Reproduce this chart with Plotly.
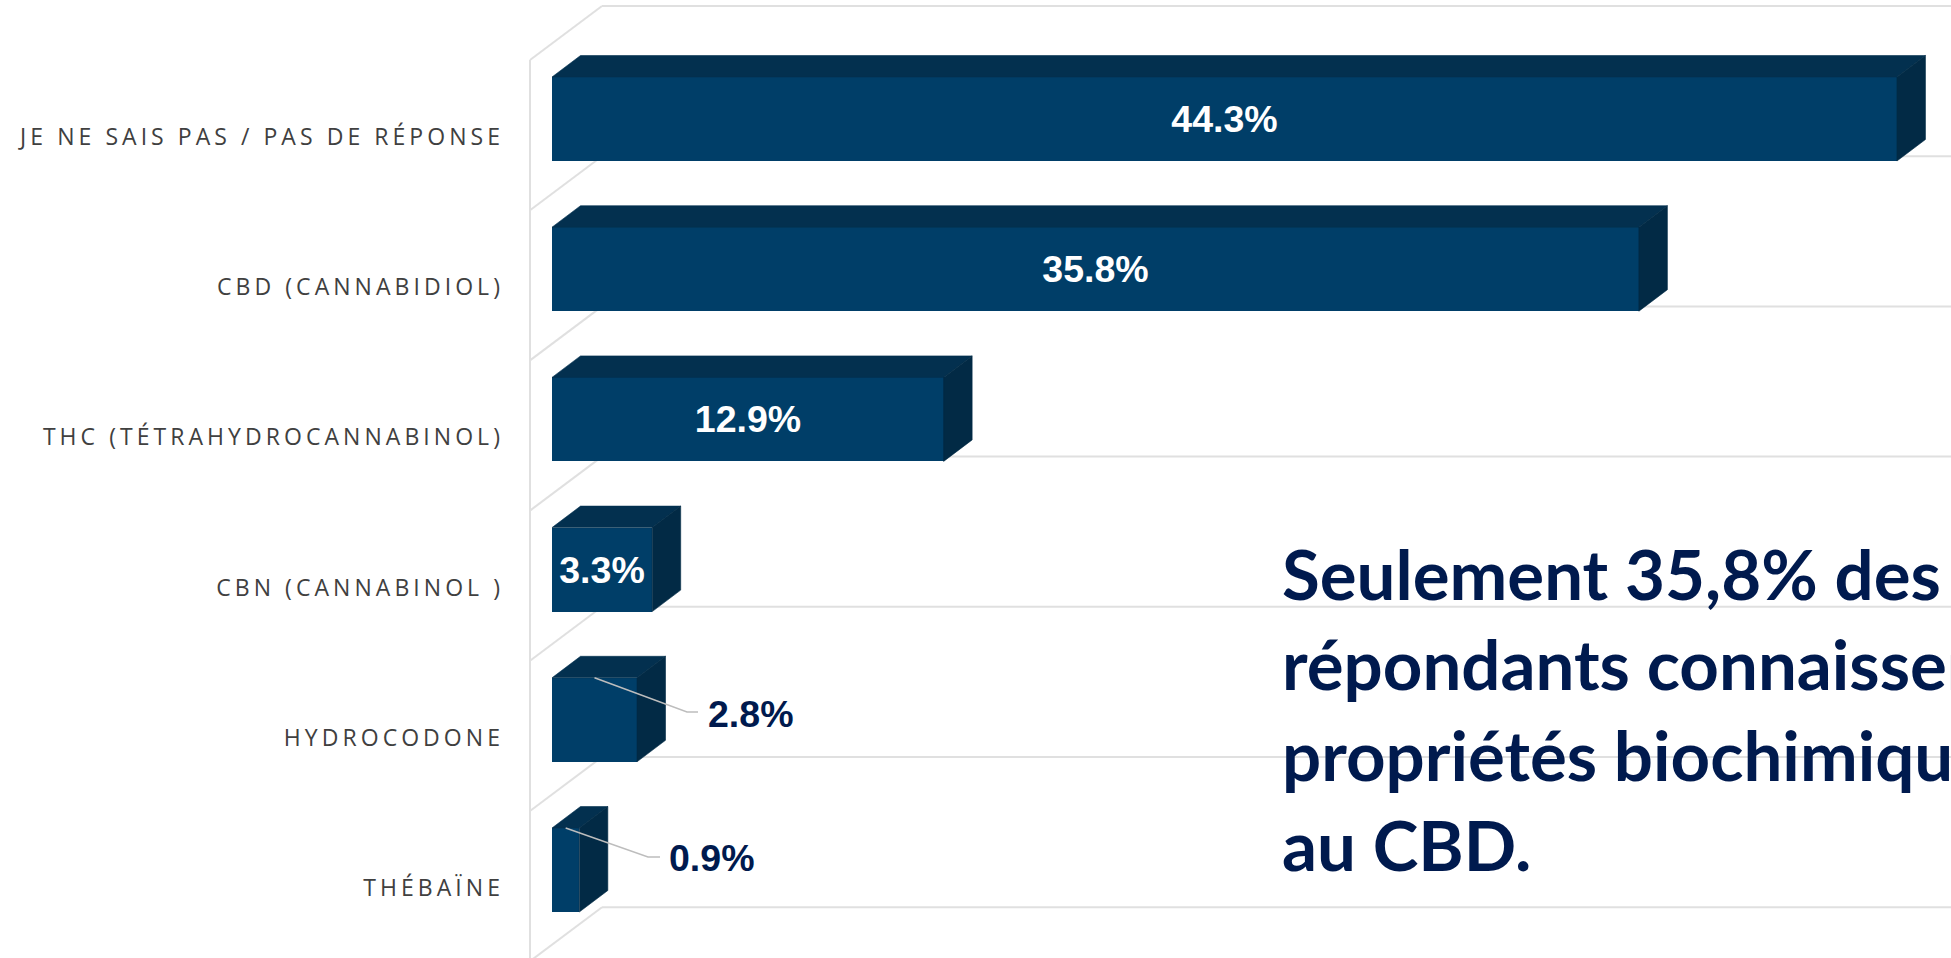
import plotly.graph_objects as go

# ---- data ----
categories = ["JE NE SAIS PAS / PAS DE RÉPONSE", "CBD (CANNABIDIOL)",
              "THC (TÉTRAHYDROCANNABINOL)", "CBN (CANNABINOL )",
              "HYDROCODONE", "THÉBAÏNE"]
values = [44.3, 35.8, 12.9, 3.3, 2.8, 0.9]
callout_lines = ["Seulement 35,8% des", "répondants connaissent",
                 "propriétés biochimiques", "au CBD."]

# ---- style / geometry ----
W, H = 1951, 958
LEFT = 505
PX_PER_PCT = 30.36
PX_PER_CAT = 150.2
X0_PX, Y0_PX = 552, 119
BAR_H = 84 / PX_PER_CAT
DX, DY = 28.5 / PX_PER_PCT, -21.5 / PX_PER_CAT
FRONT, TOP, SIDE = "#003e68", "#03304f", "#022a45"
GRID = "#e0e0e0"
NAVY = "#001a4e"
INSIDE_MIN = 3

def px_x(p):
    return (p - X0_PX) / PX_PER_PCT

def px_y(p):
    return (p - Y0_PX) / PX_PER_CAT

idx = list(range(len(categories)))

fig = go.Figure()

# front faces with inside labels
fig.add_trace(go.Bar(
    y=idx, x=values, orientation="h", width=BAR_H,
    marker=dict(color=FRONT, line=dict(width=0)),
    text=[f"{v}%" if v >= INSIDE_MIN else "" for v in values],
    textposition="inside", insidetextanchor="middle", textangle=0,
    constraintext="none",
    textfont=dict(family="Liberation Sans", size=37.5, color="white", weight="bold"),
    hoverinfo="skip", showlegend=False,
))

# top and side faces
top_x, top_y, side_x, side_y = [], [], [], []
for i, v in zip(idx, values):
    yt, yb = i - BAR_H / 2, i + BAR_H / 2
    top_x += [0, DX, v + DX, v, 0, None]
    top_y += [yt, yt + DY, yt + DY, yt, yt, None]
    side_x += [v, v + DX, v + DX, v, v, None]
    side_y += [yt, yt + DY, yb + DY, yb, yt, None]
for xs, ys, col in ((top_x, top_y, TOP), (side_x, side_y, SIDE)):
    fig.add_trace(go.Scatter(x=xs, y=ys, mode="lines", fill="toself", fillcolor=col,
                             line=dict(width=0.6, color=col), hoverinfo="skip",
                             showlegend=False))

# leader lines and outside labels
ends = {4: (687, 712, 698, 750, 714), 5: (648, 857, 660, 711.6, 858)}
annotations = []
for i, (ex, ey, fx, lx, ly) in ends.items():
    v = values[i]
    fig.add_trace(go.Scatter(
        x=[v / 2, px_x(ex), px_x(fx)],
        y=[i - BAR_H / 2, px_y(ey), px_y(ey)],
        mode="lines", line=dict(color="#bdbdbd", width=1.5),
        hoverinfo="skip", showlegend=False))
    annotations.append(dict(
        x=px_x(lx), y=px_y(ly), xref="x", yref="y", text=f"{v}%", showarrow=False,
        xanchor="center", yanchor="middle",
        font=dict(family="Liberation Sans", size=37.5, color=NAVY, weight="bold")))

# callout text, one annotation per line
for n, line in enumerate(callout_lines):
    annotations.append(dict(
        x=px_x(1280), y=px_y(573 + 90.6 * n), xref="x", yref="y", text=line,
        showarrow=False, xanchor="left", yanchor="middle", align="left",
        font=dict(family="Lato", size=69, color=NAVY, weight="bold")))

# 3D wall and floor lines
shapes = []
WALL_X, BACK_X = 530, 602
line = dict(color=GRID, width=2)
shapes.append(dict(type="line", layer="below", xref="x", yref="y", line=line,
                   x0=px_x(WALL_X), x1=px_x(WALL_X), y0=px_y(60), y1=px_y(H + 5)))
for k in range(7):
    front_y = 60 + PX_PER_CAT * k
    back_y = 6 + PX_PER_CAT * k
    shapes.append(dict(type="line", layer="below", xref="x", yref="y", line=line,
                       x0=px_x(WALL_X), x1=px_x(BACK_X), y0=px_y(front_y), y1=px_y(back_y)))
    shapes.append(dict(type="line", layer="below", xref="x", yref="y", line=line,
                       x0=px_x(BACK_X), x1=px_x(W + 5), y0=px_y(back_y), y1=px_y(back_y)))

fig.update_layout(
    width=W, height=H, margin=dict(l=LEFT, r=0, t=0, b=0),
    paper_bgcolor="white", plot_bgcolor="white", showlegend=False,
    shapes=shapes, annotations=annotations, bargap=0,
    xaxis=dict(range=[px_x(LEFT), px_x(W)], visible=False, fixedrange=True),
    yaxis=dict(range=[px_y(H), px_y(0)], tickmode="array", tickvals=idx, ticktext=categories,
               showgrid=False, zeroline=False, showline=False, ticks="", ticklabelshift=-18,
               tickfont=dict(family="Open Sans", size=23, color="#404040"), fixedrange=True),
)

post = """
document.body.style.margin='0';
document.documentElement.style.overflow='hidden';
var s=document.createElement('style');
s.textContent='.ytick text{letter-spacing:4.05px}';
document.head.appendChild(s);
"""
fig.write_html("out.html", post_script=post, config={"displayModeBar": False})
